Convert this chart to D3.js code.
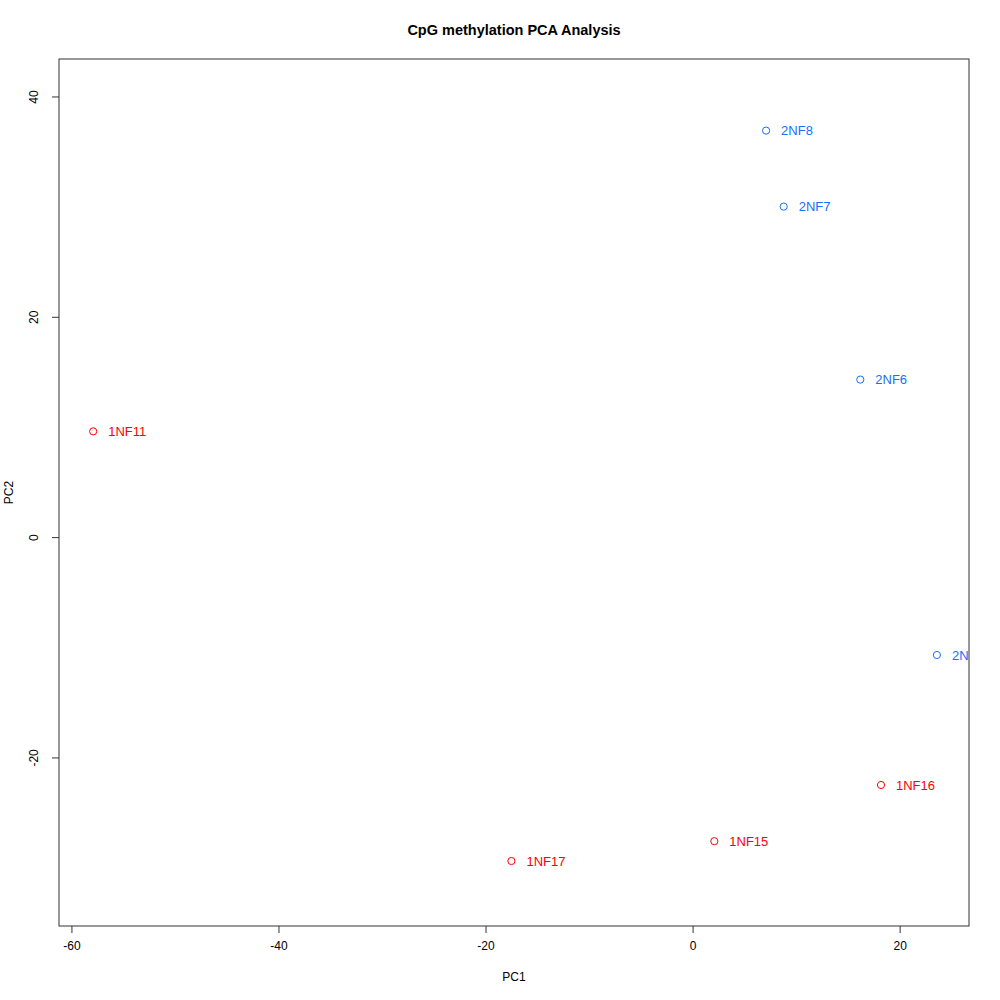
<!DOCTYPE html>
<html>
<head>
<meta charset="utf-8">
<script src="https://cdn.jsdelivr.net/npm/d3@7"></script>
<style>
  body { margin: 0; background: #fff; }
  text { font-family: "Liberation Sans", Arial, sans-serif; }
</style>
</head>
<body>
<svg width="1000" height="1000"></svg>
<script>
// PCA scores
const samples = ["2NF8", "2NF7", "2NF6", "2NF5", "1NF11", "1NF16", "1NF15", "1NF17"];
const pc1 = [7.1, 8.8, 16.2, 23.6, -57.9, 18.2, 2.1, -17.5];
const pc2 = [36.9, 30.0, 14.3, -10.7, 9.6, -22.5, -27.6, -29.4];
const group = ["2", "2", "2", "2", "1", "1", "1", "1"];
const xTicks = [-60, -40, -20, 0, 20];
const yTicks = [-20, 0, 20, 40];

const svg = d3.select("svg"),
  margin = { top: 59, right: 31, bottom: 74, left: 59 },
  width = 1000 - margin.left - margin.right,
  height = 1000 - margin.top - margin.bottom;

const color = d3.scaleOrdinal().domain(["1", "2"]).range(["#ff0000", "#1a6ef5"]);

const x = d3.scaleLinear().domain([-61.2, 26.7]).range([0, width]);
const y = d3.scaleLinear().domain([-35.3, 43.4]).range([height, 0]);

const fmt = d => String(d);

const g = svg.append("g").attr("transform", "translate(" + margin.left + "," + margin.top + ")");

g.append("defs").append("clipPath").attr("id", "plotclip")
  .append("rect").attr("width", width).attr("height", height);

// x axis
const xAxis = g.append("g").attr("transform", "translate(0," + height + ")")
  .call(d3.axisBottom(x).tickValues(xTicks).tickSize(7).tickPadding(8).tickFormat(fmt));
xAxis.select(".domain").remove();
xAxis.selectAll("text").style("font-size", "12px").attr("fill", "#000");
xAxis.selectAll("line").attr("stroke", "#333");

// y axis (rotated labels like base R)
const yAxis = g.append("g")
  .call(d3.axisLeft(y).tickValues(yTicks).tickSize(7).tickFormat(fmt));
yAxis.select(".domain").remove();
yAxis.selectAll("line").attr("stroke", "#333");
yAxis.selectAll("text")
  .style("font-size", "12px").attr("fill", "#000")
  .attr("x", 0).attr("dy", 0)
  .attr("text-anchor", "middle")
  .attr("transform", "translate(-21,0) rotate(-90)");

// box
g.append("rect").attr("width", width).attr("height", height)
  .attr("fill", "none").attr("stroke", "#333").attr("stroke-width", 1);

const pts = g.append("g").attr("clip-path", "url(#plotclip)");

pts.selectAll("circle")
  .data(samples)
  .enter()
  .append("circle")
  .attr("cx", (d, i) => x(pc1[i]))
  .attr("cy", (d, i) => y(pc2[i]))
  .attr("r", 3.6)
  .attr("fill", "none")
  .attr("stroke", (d, i) => color(group[i]))
  .attr("stroke-width", 1);

pts.selectAll("text")
  .data(samples)
  .enter()
  .append("text")
  .attr("x", (d, i) => x(pc1[i]) + 15)
  .attr("y", (d, i) => y(pc2[i]))
  .attr("dy", "0.35em")
  .style("font-size", "13px")
  .attr("fill", (d, i) => color(group[i]))
  .text(d => d);

// titles
svg.append("text")
  .attr("x", margin.left + width / 2).attr("y", 35)
  .attr("text-anchor", "middle")
  .style("font-size", "14.5px").style("font-weight", "bold")
  .text("CpG methylation PCA Analysis");

svg.append("text")
  .attr("x", margin.left + width / 2).attr("y", 981)
  .attr("text-anchor", "middle")
  .style("font-size", "12px")
  .text("PC1");

svg.append("text")
  .attr("transform", "translate(13," + (margin.top + height / 2) + ") rotate(-90)")
  .attr("text-anchor", "middle")
  .style("font-size", "12px")
  .text("PC2");
</script>
</body>
</html>
